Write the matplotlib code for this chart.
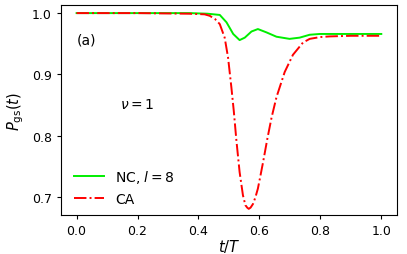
import matplotlib
matplotlib.use("Agg")
import matplotlib.pyplot as plt

# NC, l=8 (green)
t_nc = [0.0, 0.2, 0.37, 0.43, 0.47, 0.492, 0.514, 0.535, 0.552, 0.574, 0.595,
        0.623, 0.656, 0.699, 0.732, 0.765, 0.798, 0.85, 0.9, 1.0]
p_nc = [1.0, 1.0, 1.0, 0.999, 0.997, 0.985, 0.966, 0.956, 0.960, 0.970, 0.974,
        0.9686, 0.9615, 0.958, 0.960, 0.9647, 0.966, 0.966, 0.966, 0.966]

# CA (red, dash-dot)
t_ca = [0.0, 0.2, 0.37, 0.42, 0.437, 0.455, 0.470, 0.486, 0.497, 0.508, 0.516,
        0.524, 0.535, 0.546, 0.554, 0.560, 0.565, 0.571, 0.579, 0.587, 0.595,
        0.603, 0.612, 0.626, 0.640, 0.656, 0.683, 0.710, 0.743, 0.765, 0.80,
        0.83, 0.9, 1.0]
p_ca = [1.0, 1.0, 0.999, 0.998, 0.9956, 0.990, 0.982, 0.960, 0.928, 0.879, 0.840,
        0.795, 0.741, 0.703, 0.687, 0.683, 0.681, 0.683, 0.689, 0.700, 0.714,
        0.734, 0.757, 0.795, 0.830, 0.863, 0.904, 0.932, 0.952, 0.958, 0.961,
        0.962, 0.963, 0.963]

fig = plt.figure(figsize=(4.07, 2.55), dpi=100)
ax = fig.add_axes([0.150, 0.153, 0.825, 0.823])

ax.plot(t_nc, p_nc, color="#00ee00", lw=1.4, label=r"NC, $l=8$")
ax.plot(t_ca, p_ca, color="red", lw=1.4, ls="-.", label="CA")

ax.set_xlim(-0.051, 1.051)
ax.set_ylim(0.671, 1.013)
ax.set_xticks([0.0, 0.2, 0.4, 0.6, 0.8, 1.0])
ax.set_yticks([0.7, 0.8, 0.9, 1.0])
ax.tick_params(labelsize=9, length=3)
ax.set_xlabel(r"$t/T$", fontsize=10.5, labelpad=0)
ax.set_ylabel(r"$P_{\rm gs}(t)$", fontsize=10.5, labelpad=4)

ax.text(0.047, 0.835, "(a)", transform=ax.transAxes, fontsize=10, va="center")
ax.text(0.176, 0.529, r"$\nu=1$", transform=ax.transAxes, fontsize=10, va="center")

ax.legend(loc="lower left", frameon=False, fontsize=10, handlelength=2.2,
          bbox_to_anchor=(0.0, -0.015))

fig.savefig("out.png", dpi=100)
